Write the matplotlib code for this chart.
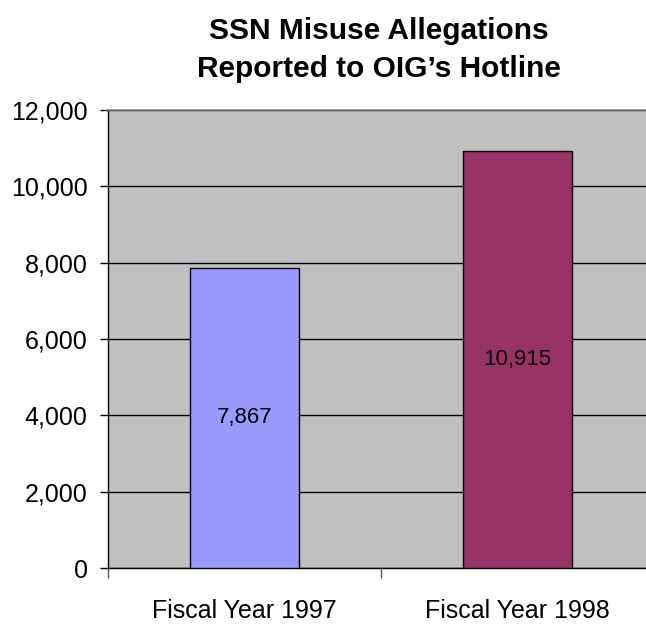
import matplotlib
matplotlib.use("Agg")
import matplotlib.pyplot as plt
from matplotlib.ticker import FuncFormatter, FixedLocator

plt.rcParams['font.family'] = ['Liberation Sans', 'DejaVu Sans']

# data
years = ["Fiscal Year 1997", "Fiscal Year 1998"]
allegations = [7867, 10915]
bar_colors = ["#9999FF", "#993366"]
yticks = [0, 2000, 4000, 6000, 8000, 10000, 12000]

fig = plt.figure(figsize=(6.46, 6.25), dpi=100)
# plot area runs past the right edge of the figure like the original
ax = fig.add_axes([108/646, 1 - 568/625, 546/646, 458/625])
ax.set_facecolor("#C0C0C0")

x = range(len(years))
bars = ax.bar(x, allegations, width=0.4, color=bar_colors,
              edgecolor="black", linewidth=1, zorder=3)
ax.bar_label(bars, labels=[f"{v:,}" for v in allegations],
             label_type="center", fontsize=16, zorder=4)

ax.set_xlim(-0.5, 1.5)
ax.set_ylim(0, 12000)
ax.set_yticks(yticks)
ax.yaxis.set_major_formatter(FuncFormatter(lambda v, p: f"{v:,.0f}"))
ax.grid(axis="y", color="black", linewidth=1, zorder=1)
ax.set_axisbelow(True)

# category ticks between the bars, labels under bars
ax.xaxis.set_major_locator(FixedLocator([-0.5, 0.5, 1.5]))
ax.xaxis.set_minor_locator(FixedLocator(list(x)))
ax.set_xticklabels([], minor=False)
ax.set_xticklabels(years, minor=True)
ax.tick_params(axis="x", which="major", length=7, width=1, color="#555555", direction="out")
ax.tick_params(axis="x", which="minor", length=0, pad=22, labelsize=18)
ax.tick_params(axis="y", length=6, width=1, pad=8.6, labelsize=18, direction="out")

for s in ["left", "bottom"]:
    ax.spines[s].set_color("black")
    ax.spines[s].set_linewidth(1)
ax.spines["top"].set_color("#808080")
ax.spines["top"].set_linewidth(1.2)
ax.spines["right"].set_visible(False)

cx = 379 / 646
fig.text(cx, 1 - 39/625, "SSN Misuse Allegations", ha="center", va="baseline",
         fontsize=21.5, fontweight="bold")
fig.text(cx, 1 - 77/625, "Reported to OIG\u2019s Hotline", ha="center", va="baseline",
         fontsize=21.5, fontweight="bold")

fig.savefig("out.png", dpi=100)
